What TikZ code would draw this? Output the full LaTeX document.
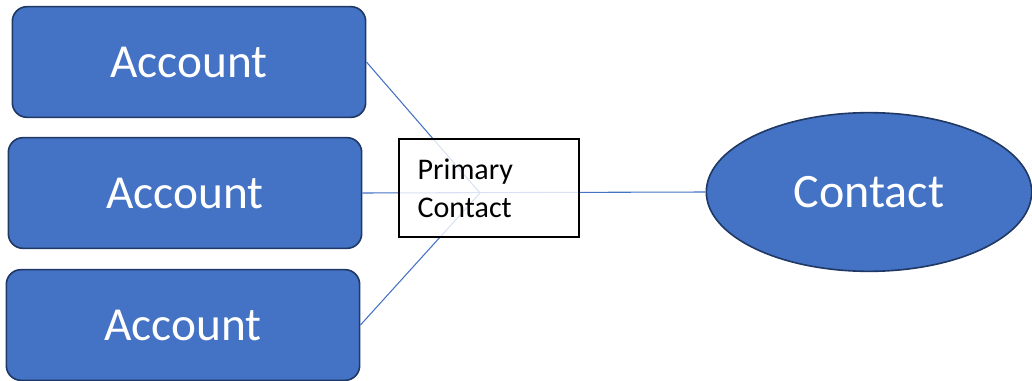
\documentclass[tikz,border=0pt]{standalone}
\usepackage{fontspec}
\setmainfont{Carlito}
\usepackage{xcolor}
\usetikzlibrary{shapes.geometric}
\definecolor{boxblue}{HTML}{4472C4}
\definecolor{edgeblue}{HTML}{1F3864}

\begin{document}
\begin{tikzpicture}[x=0.75pt, y=-0.75pt]
	% Define style for nodes
	\tikzstyle{entity}=[rectangle, rounded corners=11pt, draw=edgeblue, line width=1.2pt, fill=boxblue, text=white, minimum width=265pt, minimum height=83pt, font=\fontsize{35.5}{42}\selectfont]
	\tikzstyle{person}=[ellipse, draw=edgeblue, line width=1.2pt, fill=boxblue, text=white, inner sep=0pt, minimum width=244pt, minimum height=119pt, font=\fontsize{36}{43}\selectfont]
	\tikzstyle{relbox}=[rectangle, draw=black, line width=1.1pt, fill=white, fill opacity=0.8, text opacity=1, inner sep=0pt, text width=107pt, minimum width=135pt, minimum height=73.5pt, align=left, font=\fontsize{22.5}{28.5}\selectfont]
	\tikzstyle{link}=[draw=boxblue, line width=0.8pt]
	
	\useasboundingbox (0,0) rectangle (1032,381);
	
	\node[entity] (acc1) at (189,62) {Account};
	\node[entity] (acc2) at (185,193) {Account};
	\node[entity] (acc3) at (183,325) {Account};
	
	\node[person] (con) at (869,192) {Contact};
	
	\coordinate (hub) at (480,193);
	
	\draw[link] (acc1.east) -- (hub);
	\draw[link] (acc3.east) -- (hub);
	\draw[link] (acc2.east) -- (con.west);
	
	\node[relbox] (rel) at (489,188) {Primary\\Contact};
	
\end{tikzpicture}
\end{document}
